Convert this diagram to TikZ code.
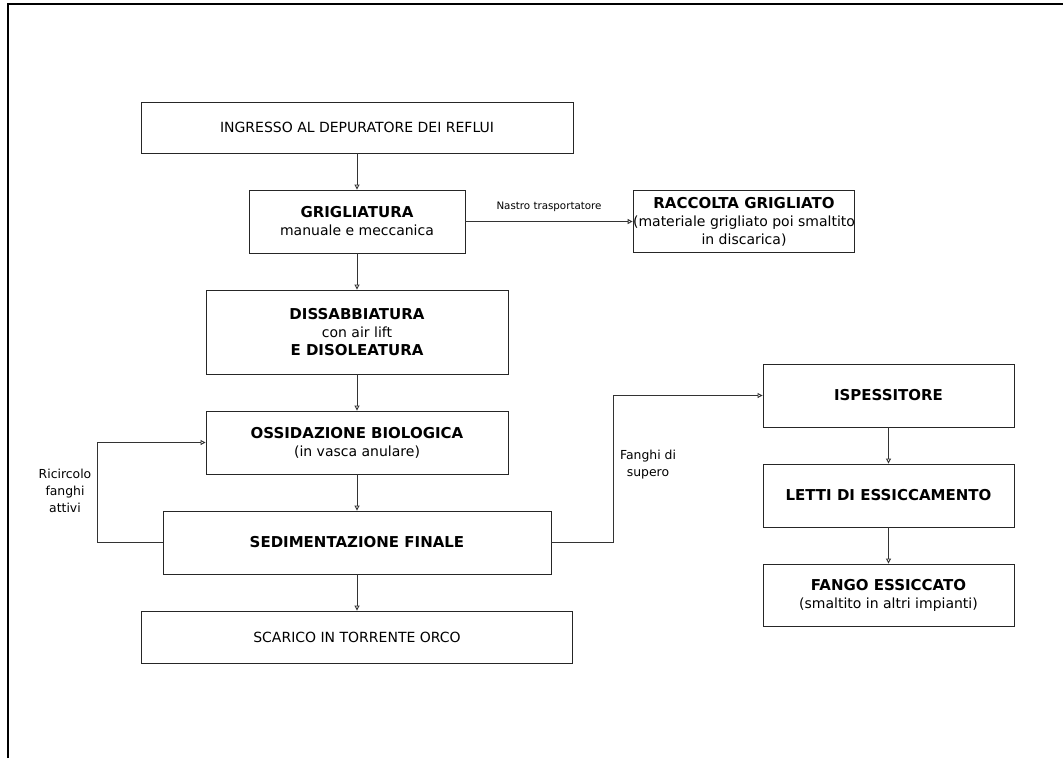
\documentclass[tikz,border=0pt]{standalone}
\usepackage{fontspec}
\setmainfont{DejaVu Sans}
\usetikzlibrary{arrows.meta}

\begin{document}
\begin{tikzpicture}[x=1pt, y=-1pt,
    box/.style={draw=black!85, line width=0.9pt, align=center, inner sep=0pt,
        font=\fontsize{14}{18}\selectfont},
    flow/.style={draw=black!80, line width=0.9pt,
        -{Triangle[open, length=5pt, width=5pt]}},
    lbl/.style={align=center, inner sep=0pt, font=\fontsize{12.4}{17}\selectfont}]
    \useasboundingbox (0,0) rectangle (1063,758);
    %\draw [very thin,gray] (0,0) grid[step=50] (1063,758);
    \draw [line width=1.4pt] (8,758) -- (8,4) -- (1063,4);
    % linea acque
    \node[box, minimum width=432pt, minimum height=51pt] (ingresso) at (357,127.5) {INGRESSO AL DEPURATORE DEI REFLUI};
    \node[box, minimum width=216pt, minimum height=63pt] (griglia) at (357,221.5) {\fontsize{15}{17}\selectfont\bfseries GRIGLIATURA\\manuale e meccanica};
    \node[box, minimum width=302pt, minimum height=84pt] (dissab) at (357,332) {\fontsize{15}{17}\selectfont\bfseries DISSABBIATURA\\con air lift\\\fontsize{15}{17}\selectfont\bfseries E DISOLEATURA};
    \node[box, minimum width=302pt, minimum height=63pt] (ossid) at (357,442.5) {\fontsize{15}{21}\selectfont\bfseries OSSIDAZIONE BIOLOGICA\\(in vasca anulare)};
    \node[box, minimum width=388pt, minimum height=63pt] (sedim) at (357,542.5) {\fontsize{15}{18}\selectfont\bfseries SEDIMENTAZIONE FINALE};
    \node[box, minimum width=431pt, minimum height=52pt] (scarico) at (357,637) {SCARICO IN TORRENTE ORCO};
    % grigliato e fanghi
    \node[box, minimum width=214pt, minimum height=62pt] (raccolta) at (744,221.5) {\fontsize{15}{20}\selectfont\bfseries RACCOLTA GRIGLIATO\\(materiale grigliato poi smaltito\\in discarica)};
    \node[box, minimum width=251pt, minimum height=63pt] (ispess) at (888.5,395.5) {\fontsize{15}{18}\selectfont\bfseries ISPESSITORE};
    \node[box, minimum width=251pt, minimum height=63pt] (letti) at (888.5,495.5) {\fontsize{15}{18}\selectfont\bfseries LETTI DI ESSICCAMENTO};
    \node[box, minimum width=251pt, minimum height=62pt] (fango) at (888.5,595) {\fontsize{15}{19}\selectfont\bfseries FANGO ESSICCATO\\(smaltito in altri impianti)};
    \draw[flow] (ingresso) -- (griglia);
    \draw[flow] (griglia) -- (dissab);
    \draw[flow] (dissab) -- (ossid);
    \draw[flow] (ossid) -- (sedim);
    \draw[flow] (sedim) -- (scarico);
    \draw[flow] (griglia.east) -- node[above=6pt, font=\fontsize{10.3}{12}\selectfont] {Nastro trasportatore} (raccolta.west);
    \draw[flow] (sedim.west) -- ++(-65,0) |- (ossid.west);
    \draw[flow] (sedim.east) -- ++(62,0) |- (ispess.west);
    \draw[flow] (ispess) -- (letti);
    \draw[flow] (letti) -- (fango);
    \node[lbl] (ricircolo) at (65,491) {Ricircolo\\fanghi\\attivi};
    \node[lbl] (supero) at (648,464.5) {Fanghi di\\supero};
\end{tikzpicture}
\end{document}
